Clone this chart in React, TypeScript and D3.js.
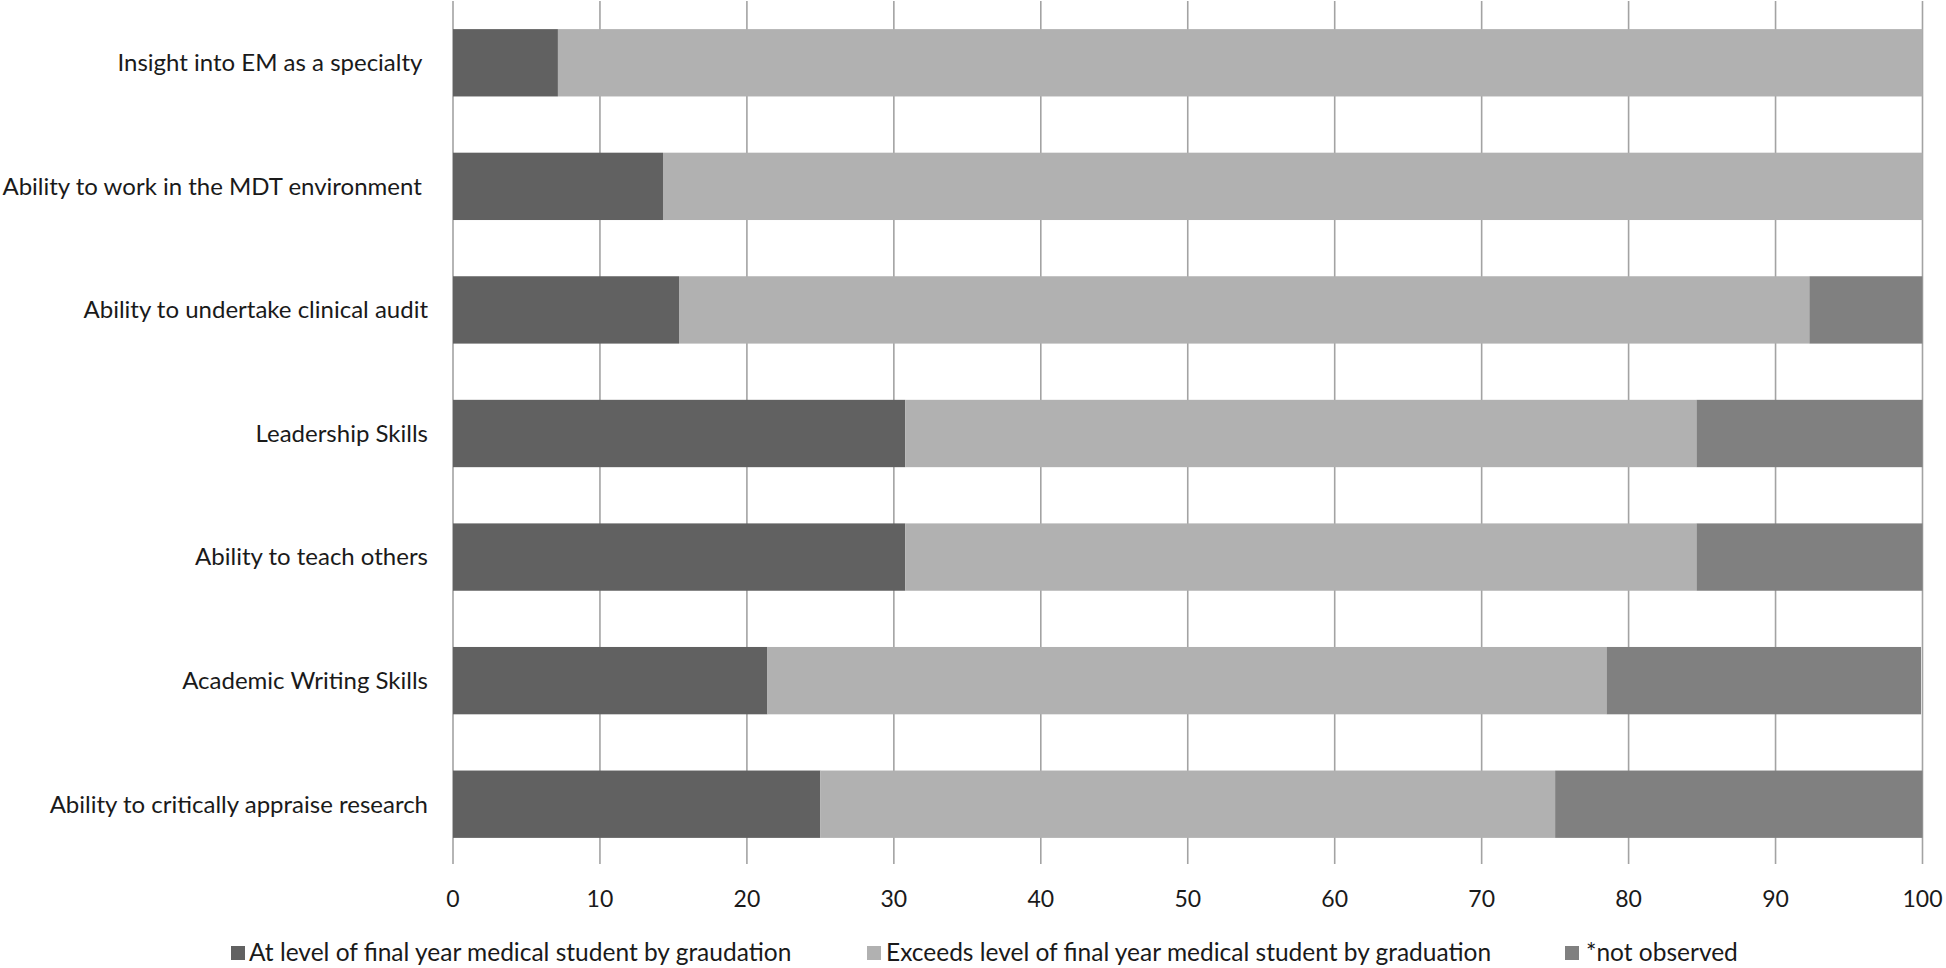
import React, { useEffect } from "react";
import * as d3 from "d3";

const categories = [
  "Insight into EM as a specialty ",
  "Ability to work in the MDT environment ",
  "Ability to undertake clinical audit",
  "Leadership Skills",
  "Ability to teach others",
  "Academic Writing Skills",
  "Ability to critically appraise research",
];
const atLevel = [7.14, 14.29, 15.38, 30.77, 30.77, 21.4, 25];
const exceeds = [92.86, 85.71, 76.92, 53.85, 53.85, 57.1, 50];
const notObserved = [0, 0, 7.69, 15.38, 15.38, 21.4, 25];
const seriesNames = [
  "At level of final year medical student by graudation",
  "Exceeds level of final year medical student by graduation",
  "*not observed",
];
const xTicks = [0, 10, 20, 30, 40, 50, 60, 70, 80, 90, 100];

const colors = ["#616161", "#b1b1b1", "#808080"];
const FONT = "Lato, 'Open Sans', sans-serif";

export default function App() {
  useEffect(() => {
    document.body.style.margin = "0";
  }, []);

  const W = 1946;
  const H = 968;
  const x = d3.scaleLinear().domain([0, 100]).range([453, 1922.5]);
  const y = d3
    .scaleBand<string>()
    .domain(categories)
    .range([1, 866])
    .paddingInner(0.455)
    .paddingOuter(0.2275);

  const rows = categories.map((c, i) => ({
    cat: c,
    vals: [atLevel[i], exceeds[i], notObserved[i]],
  }));
  const stack = d3
    .stack<any>()
    .keys(["0", "1", "2"])
    .value((d: any, k: string) => d.vals[+k]);
  const stacked = stack(rows);

  const legendItems = [
    { sq: 231, tx: 249 },
    { sq: 867, tx: 886 },
    { sq: 1565, tx: 1586 },
  ];

  return (
    <svg
      width={W}
      height={H}
      style={{ position: "absolute", left: 0, top: 0, background: "#fff" }}
      fontFamily={FONT}
    >
      <rect x={0} y={0} width={W} height={H} fill="#fff" />
      {xTicks.map((t) => (
        <line
          key={"g" + t}
          x1={x(t)}
          x2={x(t)}
          y1={1}
          y2={864}
          stroke="#a3a3a3"
          strokeWidth={1.6}
        />
      ))}
      {stacked.map((s, si) =>
        s.map((d, i) => (
          <rect
            key={si + "-" + i}
            x={x(d[0])}
            y={y(rows[i].cat)}
            width={Math.max(0, x(d[1]) - x(d[0]))}
            height={y.bandwidth()}
            fill={colors[si]}
          />
        ))
      )}
      {categories.map((c) => (
        <text
          key={c}
          x={428}
          y={(y(c) as number) + y.bandwidth() / 2}
          dy="0.35em"
          textAnchor="end"
          fontSize={24}
          fill="#1a1a1a"
          style={{ whiteSpace: "pre" }}
        >
          {c}
        </text>
      ))}
      {xTicks.map((t) => (
        <text
          key={"t" + t}
          x={x(t)}
          y={907}
          textAnchor="middle"
          fontSize={23}
          fill="#1a1a1a"
        >
          {t}
        </text>
      ))}
      {legendItems.map((it, i) => (
        <g key={"l" + i}>
          <rect x={it.sq} y={946} width={14} height={14} fill={colors[i]} />
          <text x={it.tx} y={961} fontSize={24.5} fill="#1a1a1a">
            {seriesNames[i]}
          </text>
        </g>
      ))}
    </svg>
  );
}
